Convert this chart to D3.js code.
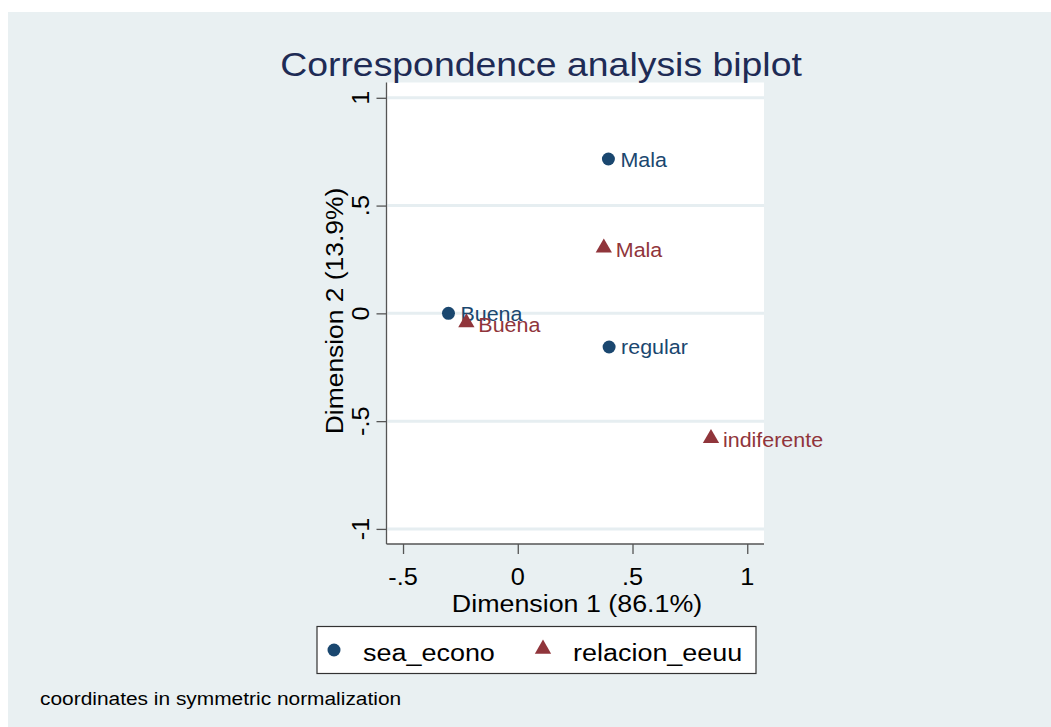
<!DOCTYPE html>
<meta charset="utf-8">
<style>
    body { margin: 0; background: #fff; }
    text { font-family: "Liberation Sans", Arial, sans-serif; }
    .grid line { stroke: #e6eef1; stroke-width: 3px; }
</style>
<svg width="1051" height="727"></svg>
<script src="https://d3js.org/d3.v4.min.js"></script>
<script>

    // values
    var xTicks = [-0.5, 0, 0.5, 1],
        xTickLabels = ["-.5", "0", ".5", "1"];
    var yTicks = [-1, -0.5, 0, 0.5, 1],
        yTickLabels = ["-1", "-.5", "0", ".5", "1"];

    var seaLabels = ["Mala", "Buena", "regular"],
        seaDim1 = [0.395, -0.302, 0.398],
        seaDim2 = [0.716, 0.0, -0.156];

    var relLabels = ["Mala", "Buena", "indiferente"],
        relDim1 = [0.375, -0.224, 0.842],
        relDim2 = [0.304, -0.043, -0.58];

    var seriesNames = ["sea_econo", "relacion_eeuu"];

    var navy = "#1a476f", maroon = "#90353b";
    var sx = 1.1; // stata text is a bit wide

    var svg = d3.select("svg");

    svg.append("rect")
        .attr("x", 8).attr("y", 12)
        .attr("width", 1043).attr("height", 715)
        .attr("fill", "#e9f0f2");

    var x = d3.scaleLinear().domain([-0.572, 1.073]).range([386.5, 764]);
    var y = d3.scaleLinear().domain([-1.07, 1.071]).range([544, 82.5]);

    // plot region
    svg.append("rect")
        .attr("x", x.range()[0]).attr("y", y.range()[1])
        .attr("width", x.range()[1] - x.range()[0])
        .attr("height", y.range()[0] - y.range()[1])
        .attr("fill", "#fff");

    svg.append("g")
        .attr("class", "grid")
        .selectAll("line")
        .data(yTicks)
        .enter().append("line")
        .attr("x1", x.range()[0] + 1).attr("x2", x.range()[1])
        .attr("y1", function (d) { return y(d); })
        .attr("y2", function (d) { return y(d); });

    function txt(g, px, py, s, rot) {
        return g.append("text")
            .attr("transform", "translate(" + px + "," + py + ")" + (rot ? " rotate(-90)" : "") + " scale(" + sx + ",1)")
            .text(s);
    }

    // axes
    var xAxis = d3.axisBottom(x).tickValues(xTicks).tickSize(10).tickFormat("");
    var yAxis = d3.axisLeft(y).tickValues(yTicks).tickSize(10).tickFormat("");

    var gx = svg.append("g").attr("transform", "translate(0," + y.range()[0] + ")").call(xAxis);
    var gy = svg.append("g").attr("transform", "translate(" + x.range()[0] + ",0)").call(yAxis);
    [gx, gy].forEach(function (g) {
        g.select(".domain").attr("stroke", "#555").attr("stroke-width", 1.3);
        g.selectAll(".tick line").attr("stroke", "#555").attr("stroke-width", 1.3);
    });
    gx.select(".domain").attr("d", "M" + x.range()[0] + ",0H" + x.range()[1]);
    gy.select(".domain").attr("d", "M0," + y.range()[0] + "V" + y.range()[1]);

    var labels = svg.append("g").attr("font-size", "23px").attr("fill", "#000").attr("text-anchor", "middle");
    xTicks.forEach(function (d, i) {
        txt(labels, x(d), 585, xTickLabels[i]);
    });
    yTicks.forEach(function (d, i) {
        txt(labels, 369, y(d), yTickLabels[i], true);
    });

    txt(labels, 577, 612, "Dimension 1 (86.1%)").attr("font-size", "24.4px");
    txt(labels, 343, 311, "Dimension 2 (13.9%)", true).attr("font-size", "24px");

    // title
    txt(svg, 541, 76, "Correspondence analysis biplot")
        .attr("text-anchor", "middle")
        .attr("font-size", "34px")
        .attr("fill", "#1e2b55");

    var tri = d3.symbol().type(d3.symbolTriangle).size(115);

    // points
    var seaData = seaLabels.map(function (l, i) { return {label: l, d1: seaDim1[i], d2: seaDim2[i]}; });
    var relData = relLabels.map(function (l, i) { return {label: l, d1: relDim1[i], d2: relDim2[i]}; });

    var pts = svg.append("g");
    seaData.forEach(function (d) {
        pts.append("circle")
            .attr("cx", x(d.d1)).attr("cy", y(d.d2)).attr("r", 6.5)
            .attr("fill", navy);
        txt(pts, x(d.d1) + 12, y(d.d2) + 7.5, d.label)
            .attr("font-size", "19.5px").attr("fill", navy);
    });
    relData.forEach(function (d) {
        pts.append("path")
            .attr("d", tri)
            .attr("transform", "translate(" + x(d.d1) + "," + y(d.d2) + ")")
            .attr("fill", maroon);
        txt(pts, x(d.d1) + 12, y(d.d2) + 9, d.label)
            .attr("font-size", "19.5px").attr("fill", maroon);
    });

    // legend
    var leg = svg.append("g");
    leg.append("rect")
        .attr("x", 317).attr("y", 626.5)
        .attr("width", 439).attr("height", 47)
        .attr("fill", "#fff").attr("stroke", "#333").attr("stroke-width", 1.2);
    leg.append("circle").attr("cx", 334).attr("cy", 650).attr("r", 6.5).attr("fill", navy);
    leg.append("path").attr("d", tri).attr("transform", "translate(543,649)").attr("fill", maroon);
    txt(leg, 363, 661, seriesNames[0]).attr("font-size", "24.5px");
    txt(leg, 573, 661, seriesNames[1]).attr("font-size", "24.5px");

    // note
    txt(svg, 40, 705, "coordinates in symmetric normalization").attr("font-size", "19px");

</script>
